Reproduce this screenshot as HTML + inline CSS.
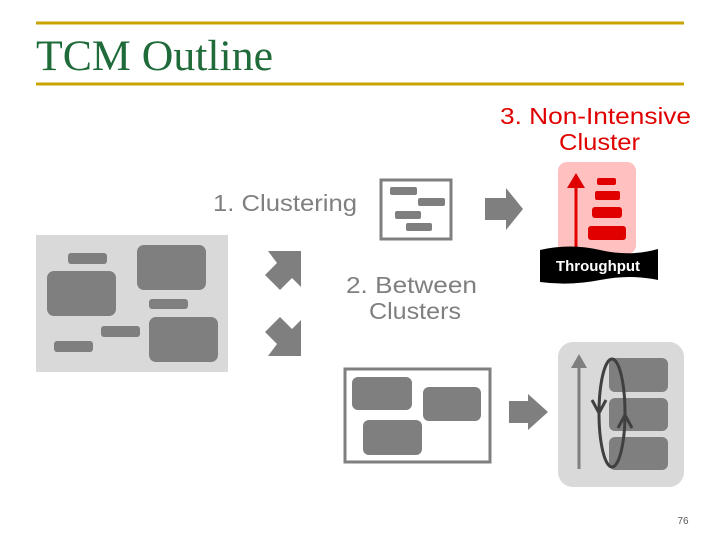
<!DOCTYPE html>
<html><head><meta charset="utf-8"><style>
html,body{margin:0;padding:0;background:#fff;}
svg{display:block;}
</style></head><body>
<svg width="720" height="540" viewBox="0 0 720 540" xmlns="http://www.w3.org/2000/svg">
<line x1="36" y1="23" x2="684" y2="23" stroke="#c9a400" stroke-width="3"/>
<line x1="36" y1="84" x2="684" y2="84" stroke="#c9a400" stroke-width="3"/>
<text x="36" y="70" font-family="Liberation Serif, serif" font-size="43" fill="#1f6b3a" textLength="237" lengthAdjust="spacingAndGlyphs">TCM Outline</text>

<text x="500" y="124" font-family="Liberation Sans, sans-serif" font-size="23" fill="#e00000" textLength="191" lengthAdjust="spacingAndGlyphs">3. Non-Intensive</text>
<text x="559" y="150" font-family="Liberation Sans, sans-serif" font-size="23" fill="#e00000" textLength="81" lengthAdjust="spacingAndGlyphs">Cluster</text>

<text x="213" y="211" font-family="Liberation Sans, sans-serif" font-size="23" fill="#7f7f7f" textLength="144" lengthAdjust="spacingAndGlyphs">1. Clustering</text>
<text x="346" y="293" font-family="Liberation Sans, sans-serif" font-size="23" fill="#7f7f7f" textLength="131" lengthAdjust="spacingAndGlyphs">2. Between</text>
<text x="369" y="319" font-family="Liberation Sans, sans-serif" font-size="23" fill="#7f7f7f" textLength="92" lengthAdjust="spacingAndGlyphs">Clusters</text>

<rect x="36" y="235" width="192" height="137" fill="#d9d9d9"/>
<g fill="#7f7f7f">
<rect x="68" y="253" width="39" height="11" rx="3"/>
<rect x="47" y="271" width="69" height="45" rx="7"/>
<rect x="137" y="245" width="69" height="45" rx="7"/>
<rect x="149" y="299" width="39" height="10" rx="3"/>
<rect x="149" y="317" width="69" height="45" rx="7"/>
<rect x="101" y="326" width="39" height="11" rx="3"/>
<rect x="54" y="341" width="39" height="11" rx="3"/>
</g>
<g fill="#7f7f7f">
<polygon points="301,251 301,287 292,278 280,290 265,275 277,263 268,251"/>
<polygon points="301,356 301,320 292,329 280,317 265,332 277,344 268,356"/>
</g>

<rect x="381" y="180" width="70" height="59" fill="none" stroke="#7f7f7f" stroke-width="3"/>
<g fill="#7f7f7f">
<rect x="390" y="187" width="27" height="8" rx="2"/>
<rect x="418" y="198" width="27" height="8" rx="2"/>
<rect x="395" y="211" width="26" height="8" rx="2"/>
<rect x="406" y="223" width="26" height="8" rx="2"/>
</g>
<polygon points="485,198 506,198 506,188 523,209 506,230 506,220 485,220" fill="#7f7f7f"/>

<rect x="558" y="162" width="78" height="92" rx="9" fill="#ffc0c0"/>
<line x1="576" y1="248" x2="576" y2="186" stroke="#e00000" stroke-width="3"/>
<polygon points="567,188 585,188 576,173" fill="#e00000"/>
<g fill="#e00000">
<rect x="597" y="178" width="19" height="7" rx="2"/>
<rect x="595" y="191" width="25" height="9" rx="2"/>
<rect x="592" y="207" width="30" height="11" rx="3"/>
<rect x="588" y="226" width="38" height="14" rx="3"/>
</g>
<path d="M540,250 Q570,243 600,250 T658,249 L658,280 Q630,274 600,280 T540,282 Z" fill="#000"/>
<text x="598" y="271" text-anchor="middle" font-family="Liberation Sans, sans-serif" font-weight="bold" font-size="15" fill="#fff">Throughput</text>

<rect x="345" y="369" width="145" height="93" fill="none" stroke="#7f7f7f" stroke-width="3"/>
<g fill="#7f7f7f">
<rect x="352" y="377" width="60" height="33" rx="6"/>
<rect x="423" y="387" width="58" height="34" rx="6"/>
<rect x="363" y="420" width="59" height="35" rx="6"/>
</g>
<polygon points="509,401 528,401 528,394 548,412 528,430 528,423 509,423" fill="#7f7f7f"/>

<rect x="558" y="342" width="126" height="145" rx="15" fill="#d9d9d9"/>
<line x1="579" y1="469" x2="579" y2="366" stroke="#7f7f7f" stroke-width="3"/>
<polygon points="571,368 587,368 579,354" fill="#7f7f7f"/>
<g fill="#7f7f7f">
<rect x="609" y="358" width="59" height="34" rx="6"/>
<rect x="609" y="398" width="59" height="33" rx="6"/>
<rect x="609" y="437" width="59" height="33" rx="6"/>
</g>
<ellipse cx="612" cy="413" rx="13" ry="54" fill="none" stroke="#404040" stroke-width="3"/>
<polyline points="592,400 599,413 606,400" fill="none" stroke="#404040" stroke-width="3"/>
<polyline points="618,428 625,415 632,428" fill="none" stroke="#404040" stroke-width="3"/>

<text x="683" y="524" text-anchor="middle" font-family="Liberation Sans, sans-serif" font-size="10" fill="#595959">76</text>
</svg>
</body></html>
